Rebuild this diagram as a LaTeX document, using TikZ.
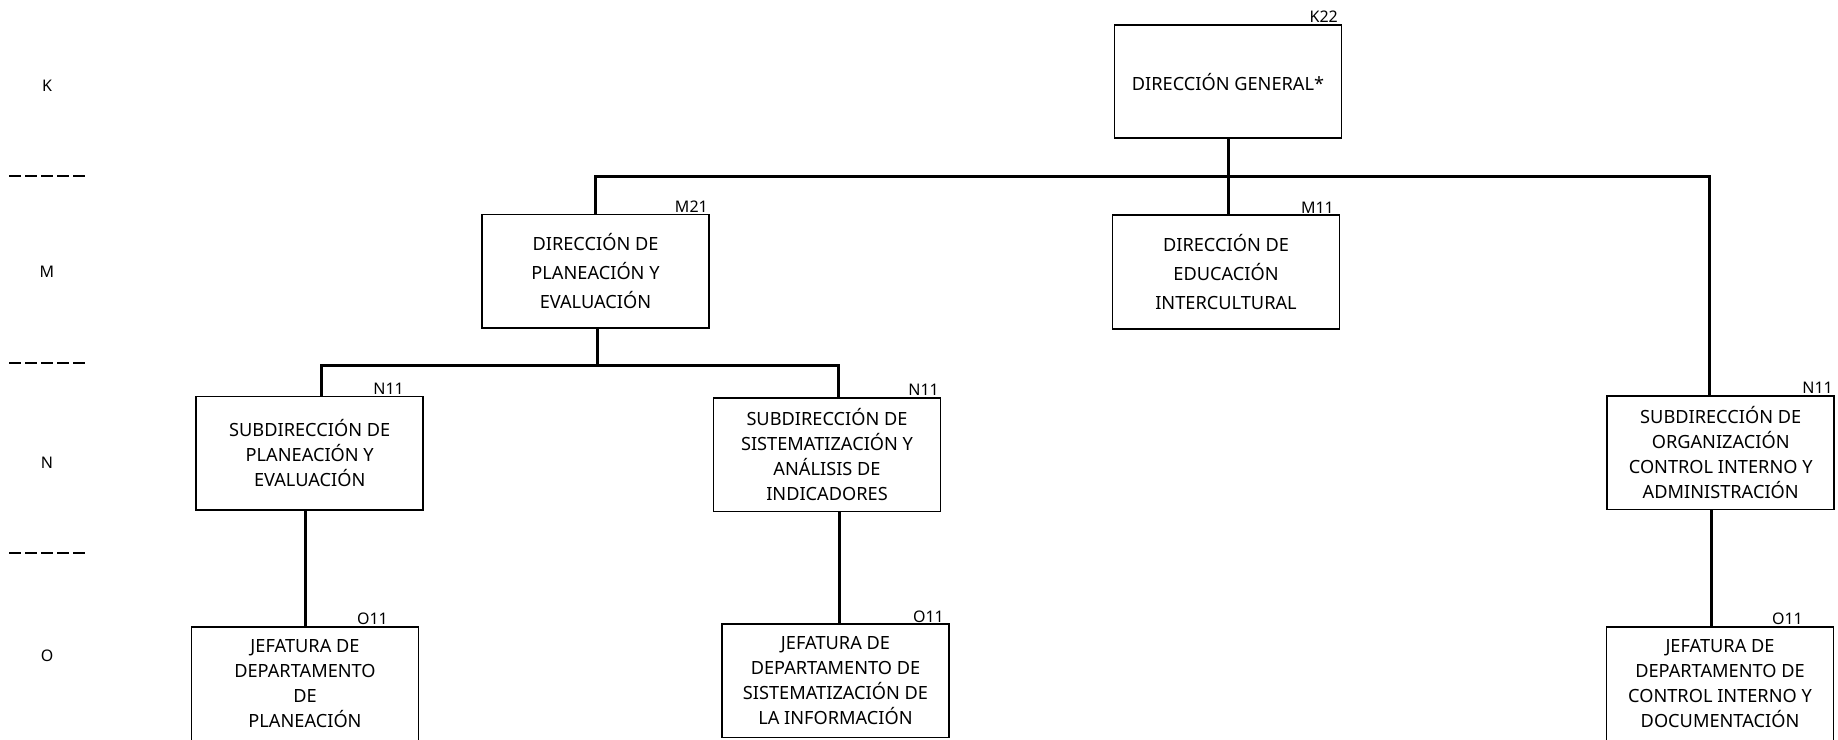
\documentclass[tikz,border=0pt]{standalone}
\usepackage{fontspec}
\setmainfont{Noto Sans}
\begin{document}
\begin{tikzpicture}[x=1pt,y=-1pt,
  box/.style={draw, line width=1.8pt, inner sep=0pt, align=center, minimum width=227, minimum height=113.5},
  txtN/.style={font=\fontsize{18.2}{25}\selectfont},
  txtM/.style={font=\fontsize{18.2}{29}\selectfont},
  code/.style={font=\fontsize{16}{18}\selectfont, inner sep=0pt, anchor=base east},
  lvl/.style={font=\fontsize{16}{18}\selectfont, inner sep=0pt},
  conn/.style={line width=3pt},
  sep/.style={line width=2pt, dash pattern=on 12pt off 4pt}]
\useasboundingbox (0,0) rectangle (1838,739);

% level column
\node[lvl] (lk) at (47,86) {K};
\node[lvl] (lm) at (47,272) {M};
\node[lvl] (ln) at (47,463) {N};
\node[lvl] (lo) at (47,656) {O};
\draw[sep] (9,176) -- (85,176);
\draw[sep] (9,363) -- (85,363);
\draw[sep] (9,553) -- (85,553);

% boxes
\node[box, txtM] (dg) at (1228,81.5) {DIRECCIÓN GENERAL*};
\node[box, txtM] (dpe) at (595.5,271.3) {DIRECCIÓN DE\\PLANEACIÓN Y\\EVALUACIÓN};
\node[box, txtM] (dei) at (1226,272) {DIRECCIÓN DE\\EDUCACIÓN\\INTERCULTURAL};
\node[box, txtN] (spe) at (309.7,453.3) {SUBDIRECCIÓN DE\\PLANEACIÓN Y\\EVALUACIÓN};
\node[box, txtN] (ssa) at (827,454.7) {SUBDIRECCIÓN DE\\SISTEMATIZACIÓN Y\\ANÁLISIS DE\\INDICADORES};
\node[box, txtN] (soc) at (1720.7,452.8) {SUBDIRECCIÓN DE\\ORGANIZACIÓN\\CONTROL INTERNO Y\\ADMINISTRACIÓN};
\node[box, txtN] (jdp) at (305,683.7) {JEFATURA DE\\DEPARTAMENTO\\DE\\PLANEACIÓN};
\node[box, txtN] (jds) at (835.5,680.8) {JEFATURA DE\\DEPARTAMENTO DE\\SISTEMATIZACIÓN DE\\LA INFORMACIÓN};
\node[box, txtN] (jdc) at (1720,683.7) {JEFATURA DE\\DEPARTAMENTO DE\\CONTROL INTERNO Y\\DOCUMENTACIÓN};

% codes
\node[code] (cdg) at (1338,22) {K22};
\node[code] (cdpe) at (708,212) {M21};
\node[code] (cdei) at (1334,213) {M11};
\node[code] (cspe) at (404,394) {N11};
\node[code] (cssa) at (939,395) {N11};
\node[code] (csoc) at (1833,393) {N11};
\node[code] (cjdp) at (388,624) {O11};
\node[code] (cjds) at (944,622) {O11};
\node[code] (cjdc) at (1803,624) {O11};

% junctions
\coordinate (b1) at (1228,176);
\coordinate (b1l) at (595,176);
\coordinate (b1r) at (1709,176);
\coordinate (b2) at (597,365);
\coordinate (b2l) at (321,365);
\coordinate (b2r) at (838.5,365);
\coordinate (v1) at (305,0);
\coordinate (v2) at (839,0);
\coordinate (v3) at (1711.5,0);

% connectors
\draw[conn] (dg.south) -- (b1);
\draw[conn] (b1l |- dpe.north) -- (b1l) -- (b1r) -- (b1r |- soc.north);
\draw[conn] (b1) -- (b1 |- dei.north);
\draw[conn] (b2 |- dpe.south) -- (b2);
\draw[conn] (b2l |- spe.north) -- (b2l) -- (b2r) -- (b2r |- ssa.north);
\draw[conn] (v1 |- spe.south) -- (v1 |- jdp.north);
\draw[conn] (v2 |- ssa.south) -- (v2 |- jds.north);
\draw[conn] (v3 |- soc.south) -- (v3 |- jdc.north);
\end{tikzpicture}
\end{document}
